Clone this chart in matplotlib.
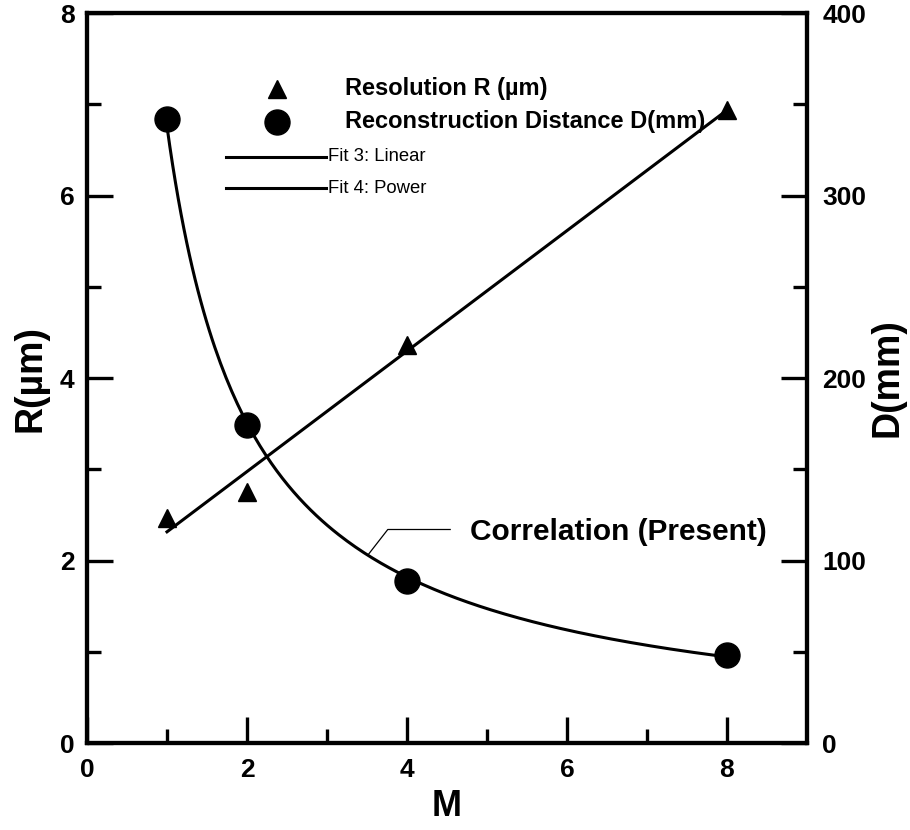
import numpy as np
import matplotlib
matplotlib.use("Agg")
import matplotlib.pyplot as plt

plt.rcParams["font.family"] = ["Liberation Sans", "DejaVu Sans"]

# magnification
m_vals = [1, 2, 4, 8]
# resolution R (um), left axis
r_vals = [2.47, 2.75, 4.36, 6.94]
# reconstruction distance D (mm), right axis
d_vals = [342, 174, 89, 48]

x_ticks = [0, 2, 4, 6, 8]
r_ticks = [0, 2, 4, 6, 8]
d_ticks = [0, 100, 200, 300, 400]

# fits (linear for R, power law for D)
lin = np.polyfit(m_vals, r_vals, 1)
pw = np.polyfit(np.log(m_vals), np.log(d_vals), 1)
m_fit = np.linspace(min(m_vals), max(m_vals), 200)
r_fit = np.polyval(lin, m_fit)
d_fit = np.exp(pw[1]) * m_fit ** pw[0]

fig = plt.figure(figsize=(9.1, 8.3), dpi=100)
ax = fig.add_axes([0.0956, 0.1048, 0.7912, 0.8795])
ax2 = ax.twinx()

ax.plot(m_vals, r_vals, linestyle="none", marker="^", markersize=13, color="black")
ax.plot(m_fit, r_fit, color="black", lw=2.2)
ax2.plot(m_vals, d_vals, linestyle="none", marker="o", markersize=18, color="black")
ax2.plot(m_fit, d_fit, color="black", lw=2.2)

ax.set_xlim(0, 9)
ax.set_ylim(0, 8)
ax2.set_ylim(0, 400)
ax.set_xticks(x_ticks)
ax.set_xticks(np.arange(1, 9, 2), minor=True)
ax.set_yticks(r_ticks)
ax.set_yticks(np.arange(1, 8, 2), minor=True)
ax2.set_yticks(d_ticks)
ax2.set_yticks(np.arange(50, 400, 100), minor=True)

for a in (ax, ax2):
    for s in a.spines.values():
        s.set_linewidth(3)
    a.tick_params(which="major", direction="in", length=19, width=2.4)
    a.tick_params(which="minor", direction="in", length=10, width=2.4)
ax.tick_params(axis="both", which="both", top=False, right=False)
ax.tick_params(axis="x", pad=11, labelsize=19)
ax.tick_params(axis="y", pad=9, labelsize=19)
ax2.tick_params(axis="y", pad=11, labelsize=19)
for lbl in ax.get_xticklabels() + ax.get_yticklabels() + ax2.get_yticklabels():
    lbl.set_fontweight("bold")

ax.set_xlabel("M", fontsize=26, fontweight="bold", labelpad=5)
ax.set_ylabel("R(µm)", fontsize=27, fontweight="bold", labelpad=8)
ax2.set_ylabel("D(mm)", fontsize=27, fontweight="bold", labelpad=2)

# hand-made legend
tr = ax2.transAxes
ax2.plot([0.264], [0.896], marker="^", markersize=13, color="black", transform=tr, clip_on=False)
ax2.text(0.358, 0.896, "Resolution R (µm)", transform=tr, fontsize=17, fontweight="bold", va="center")
ax2.plot([0.264], [0.851], marker="o", markersize=18, color="black", transform=tr, clip_on=False)
ax2.text(0.358, 0.851, "Reconstruction Distance D(mm)", transform=tr, fontsize=17, fontweight="bold", va="center")
ax2.plot([0.193, 0.332], [0.803, 0.803], color="black", lw=2.2, transform=tr)
ax2.text(0.335, 0.803, "Fit 3: Linear", transform=tr, fontsize=13.3, va="center")
ax2.plot([0.193, 0.332], [0.760, 0.760], color="black", lw=2.2, transform=tr)
ax2.text(0.335, 0.760, "Fit 4: Power", transform=tr, fontsize=13.3, va="center")

# correlation callout
x0 = 3.51
y0 = np.exp(pw[1]) * x0 ** pw[0]
ax2.plot([x0, 3.76, 4.54], [y0, 117, 117], color="black", lw=0.9)
ax2.text(4.79, 115.5, "Correlation (Present)", fontsize=21.5, fontweight="bold", va="center")

fig.savefig("out.png", dpi=100)
